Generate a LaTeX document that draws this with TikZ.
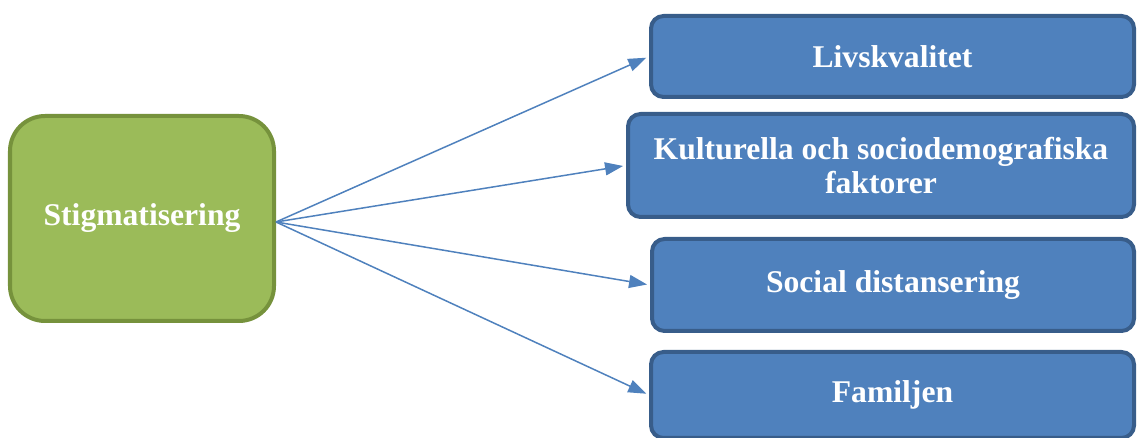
\documentclass[tikz,border=0pt]{standalone}
\usepackage{fontspec}
\setmainfont{Liberation Serif}
\usetikzlibrary{arrows.meta}

\definecolor{greenfill}{HTML}{9BBB59}
\definecolor{greenline}{HTML}{76923C}
\definecolor{bluefill}{HTML}{4F81BD}
\definecolor{blueline}{HTML}{385D8A}

\begin{document}
\begin{tikzpicture}
  \tikzset{source/.style = {shape=rectangle,draw=greenline,fill=greenfill,line width=0.08cm,
      rounded corners=0.7cm,minimum width=5.28cm,minimum height=4.1cm,
      text=white,font=\bfseries\fontsize{18}{20}\selectfont}}
  \tikzset{target/.style = {shape=rectangle,draw=blueline,fill=bluefill,line width=0.08cm,
      rounded corners=0.25cm,text=white,align=center,
      font=\bfseries\fontsize{18}{19.5}\selectfont}}
  \tikzset{edge/.style = {-{Triangle[length=0.36cm,width=0.26cm]},color=bluefill,
      line width=0.03cm,shorten >=0.06cm}}

  \clip (0,0) rectangle (22.76,-8.76);

	\node[source] (S) at (2.84,-4.37) {Stigmatisering};
	\node[target,minimum width=9.66cm,minimum height=1.62cm] (L) at (17.85,-1.13) {Livskvalitet};
	\node[target,minimum width=10.12cm,minimum height=2.06cm] (K) at (17.62,-3.31) {Kulturella och sociodemografiska\\faktorer};
	\node[target,minimum width=9.64cm,minimum height=1.84cm] (D) at (17.86,-5.70) {Social distansering};
	\node[target,minimum width=9.66cm,minimum height=1.72cm] (F) at (17.85,-7.90) {Familjen};

       \foreach \to in {L, K, D, F}
    \draw[edge] ([yshift=-0.07cm]S.east) -- (\to.west);
\end{tikzpicture}
\end{document}
